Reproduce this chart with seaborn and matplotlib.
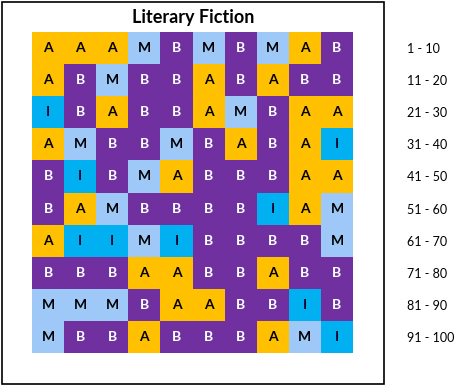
import numpy as np
import matplotlib
matplotlib.use("Agg")
import matplotlib.pyplot as plt
import seaborn as sns
from matplotlib.colors import ListedColormap
from matplotlib.patches import Rectangle

title = "Literary Fiction"
categories = ["A", "B", "M", "I"]
cat_colors = ["#FFC000", "#7030A0", "#9DC8F8", "#00B0F0"]
text_colors = ["#000000", "#FFFFFF", "#000000", "#0A0A30"]

grid = [
    "A A A M B M B M A B",
    "A B M B B A B A B B",
    "I B A B B A M B A A",
    "A M B B M B A B A I",
    "B I B M A B B B A A",
    "B A M B B B B I A M",
    "A I I M I B B B B M",
    "B B B A A B B A B B",
    "M M M B A A B B I B",
    "M B B A B B B A M I",
]
row_labels = ["1 - 10", "11 - 20", "21 - 30", "31 - 40", "41 - 50",
              "51 - 60", "61 - 70", "71 - 80", "81 - 90", "91 - 100"]

letters = np.array([r.split() for r in grid])
codes = np.vectorize(categories.index)(letters)

W, H = 468, 385
fig = plt.figure(figsize=(W / 100, H / 100), dpi=100)
ax = fig.add_axes([32 / W, (H - 353) / H, 321 / W, 321 / H])

sns.heatmap(codes, ax=ax, cmap=ListedColormap(cat_colors), vmin=-0.5, vmax=3.5,
            annot=letters, fmt="", cbar=False, linewidths=0,
            annot_kws={"fontsize": 10, "fontweight": "bold", "family": "Lato"},
            xticklabels=False, yticklabels=row_labels)

for t in ax.texts:
    t.set_color(text_colors[categories.index(t.get_text())])

ax.yaxis.tick_right()
ax.tick_params(axis="y", length=0, pad=39, labelsize=9, rotation=0)
for lab in ax.get_yticklabels():
    lab.set_family("Lato")
    lab.set_horizontalalignment("left")

fig.text(193 / W, 1 - 17 / H, title, ha="center", va="center",
         fontsize=13, fontweight="bold", family="Lato")

fig.add_artist(Rectangle((1.5 / W, 1.5 / H), 382 / W, 382 / H, transform=fig.transFigure,
                         fill=False, edgecolor="black", linewidth=1.2))

fig.savefig("out.png", dpi=100)
